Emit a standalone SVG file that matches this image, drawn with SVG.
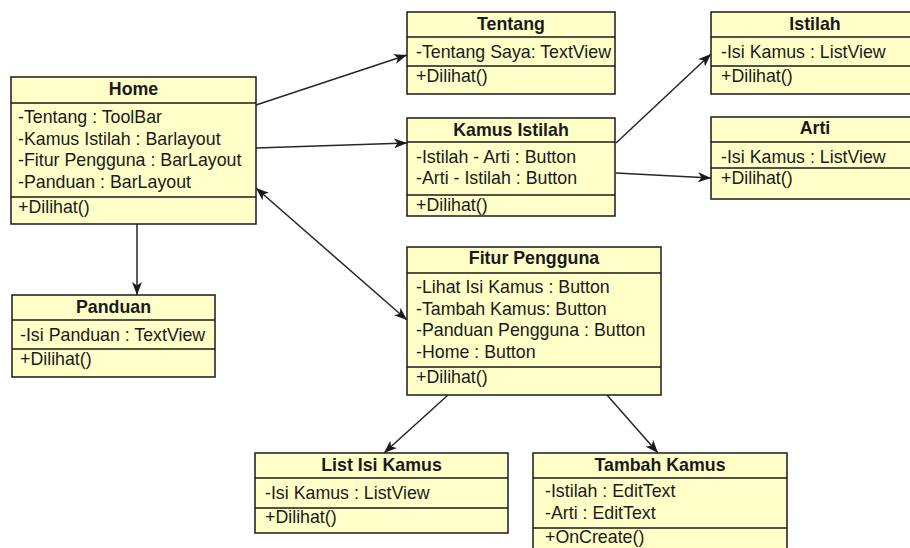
<svg xmlns="http://www.w3.org/2000/svg" width="910" height="548" viewBox="0 0 910 548">
  <style>
    .box { fill: #FFFFC8; stroke: #1a1a1a; stroke-width: 1.5; }
    .sep { stroke: #1a1a1a; stroke-width: 1.5; }
    .title { font-family: "Liberation Sans", Arial, sans-serif; font-size: 17.8px; font-weight: bold; fill: #1a1a1a; text-anchor: middle; }
    .item { font-family: "Liberation Sans", Arial, sans-serif; font-size: 17.8px; fill: #1a1a1a; }
    .edge { stroke: #262626; stroke-width: 1.5; fill: none; }
  </style>
  <defs>
    <marker id="arrow" markerUnits="userSpaceOnUse" markerWidth="14" markerHeight="10" refX="13" refY="5" orient="auto-start-reverse">
      <path d="M0,0 L13,5 L0,10 L3.5,5 z" fill="#1a1a1a"/>
    </marker>
  </defs>
  <rect width="910" height="548" fill="#FFFFFF"/>

  <g id="connectors">
    <line class="edge" x1="256" y1="105" x2="407" y2="55" marker-end="url(#arrow)"/>
    <line class="edge" x1="256" y1="148" x2="407" y2="143" marker-end="url(#arrow)"/>
    <line class="edge" x1="616" y1="143" x2="711" y2="54" marker-end="url(#arrow)"/>
    <line class="edge" x1="616" y1="173" x2="711" y2="178" marker-end="url(#arrow)"/>
    <line class="edge" x1="256" y1="188" x2="407" y2="320" marker-start="url(#arrow)" marker-end="url(#arrow)"/>
    <line class="edge" x1="137" y1="224" x2="137" y2="295" marker-end="url(#arrow)"/>
    <line class="edge" x1="448" y1="395" x2="384" y2="453" marker-end="url(#arrow)"/>
    <line class="edge" x1="607" y1="395" x2="658" y2="453" marker-end="url(#arrow)"/>
  </g>

  <g id="home">
    <rect class="box" x="11" y="77" width="245" height="147"/>
    <line class="sep" x1="11" y1="103" x2="256" y2="103"/>
    <line class="sep" x1="11" y1="197" x2="256" y2="197"/>
    <text class="title" x="133.5" y="95">Home</text>
    <text class="item" x="18" y="123">-Tentang : ToolBar</text>
    <text class="item" x="18" y="145">-Kamus Istilah : Barlayout</text>
    <text class="item" x="18" y="166">-Fitur Pengguna : BarLayout</text>
    <text class="item" x="18" y="187.5">-Panduan : BarLayout</text>
    <text class="item" x="18" y="213">+Dilihat()</text>
  </g>

  <g id="tentang">
    <rect class="box" x="407" y="12" width="208" height="82"/>
    <line class="sep" x1="407" y1="37" x2="615" y2="37"/>
    <line class="sep" x1="407" y1="66" x2="615" y2="66"/>
    <text class="title" x="511" y="29.5">Tentang</text>
    <text class="item" x="416" y="58">-Tentang Saya: TextView</text>
    <text class="item" x="416" y="82">+Dilihat()</text>
  </g>

  <g id="kamus-istilah">
    <rect class="box" x="407" y="118" width="208" height="98"/>
    <line class="sep" x1="407" y1="142" x2="615" y2="142"/>
    <line class="sep" x1="407" y1="195" x2="615" y2="195"/>
    <text class="title" x="511" y="136">Kamus Istilah</text>
    <text class="item" x="416" y="163">-Istilah - Arti : Button</text>
    <text class="item" x="416" y="184">-Arti - Istilah : Button</text>
    <text class="item" x="416" y="211">+Dilihat()</text>
  </g>

  <g id="istilah">
    <rect class="box" x="711" y="12" width="208" height="82"/>
    <line class="sep" x1="711" y1="37" x2="919" y2="37"/>
    <line class="sep" x1="711" y1="66" x2="919" y2="66"/>
    <text class="title" x="815" y="29.5">Istilah</text>
    <text class="item" x="721" y="58">-Isi Kamus : ListView</text>
    <text class="item" x="721" y="82">+Dilihat()</text>
  </g>

  <g id="arti">
    <rect class="box" x="711" y="117" width="208" height="82"/>
    <line class="sep" x1="711" y1="142" x2="919" y2="142"/>
    <line class="sep" x1="711" y1="168" x2="919" y2="168"/>
    <text class="title" x="815" y="134">Arti</text>
    <text class="item" x="721" y="163">-Isi Kamus : ListView</text>
    <text class="item" x="721" y="184">+Dilihat()</text>
  </g>

  <g id="panduan">
    <rect class="box" x="12" y="295" width="203" height="82"/>
    <line class="sep" x1="12" y1="320" x2="215" y2="320"/>
    <line class="sep" x1="12" y1="349" x2="215" y2="349"/>
    <text class="title" x="113.5" y="313">Panduan</text>
    <text class="item" x="20" y="341">-Isi Panduan : TextView</text>
    <text class="item" x="20" y="365">+Dilihat()</text>
  </g>

  <g id="fitur-pengguna">
    <rect class="box" x="407" y="247" width="254" height="148"/>
    <line class="sep" x1="407" y1="273" x2="661" y2="273"/>
    <line class="sep" x1="407" y1="367" x2="661" y2="367"/>
    <text class="title" x="534" y="264">Fitur Pengguna</text>
    <text class="item" x="416" y="293">-Lihat Isi Kamus : Button</text>
    <text class="item" x="416" y="314.5">-Tambah Kamus: Button</text>
    <text class="item" x="416" y="336">-Panduan Pengguna : Button</text>
    <text class="item" x="416" y="358">-Home : Button</text>
    <text class="item" x="416" y="383">+Dilihat()</text>
  </g>

  <g id="list-isi-kamus">
    <rect class="box" x="255" y="453" width="253" height="80"/>
    <line class="sep" x1="255" y1="478" x2="508" y2="478"/>
    <line class="sep" x1="255" y1="508" x2="508" y2="508"/>
    <text class="title" x="381.5" y="471">List Isi Kamus</text>
    <text class="item" x="265" y="499">-Isi Kamus : ListView</text>
    <text class="item" x="265" y="523">+Dilihat()</text>
  </g>

  <g id="tambah-kamus">
    <rect class="box" x="533" y="453" width="254" height="100"/>
    <line class="sep" x1="533" y1="478" x2="787" y2="478"/>
    <line class="sep" x1="533" y1="528" x2="787" y2="528"/>
    <text class="title" x="660" y="471">Tambah Kamus</text>
    <text class="item" x="545" y="497">-Istilah : EditText</text>
    <text class="item" x="545" y="519">-Arti : EditText</text>
    <text class="item" x="545" y="543">+OnCreate()</text>
  </g>
</svg>
